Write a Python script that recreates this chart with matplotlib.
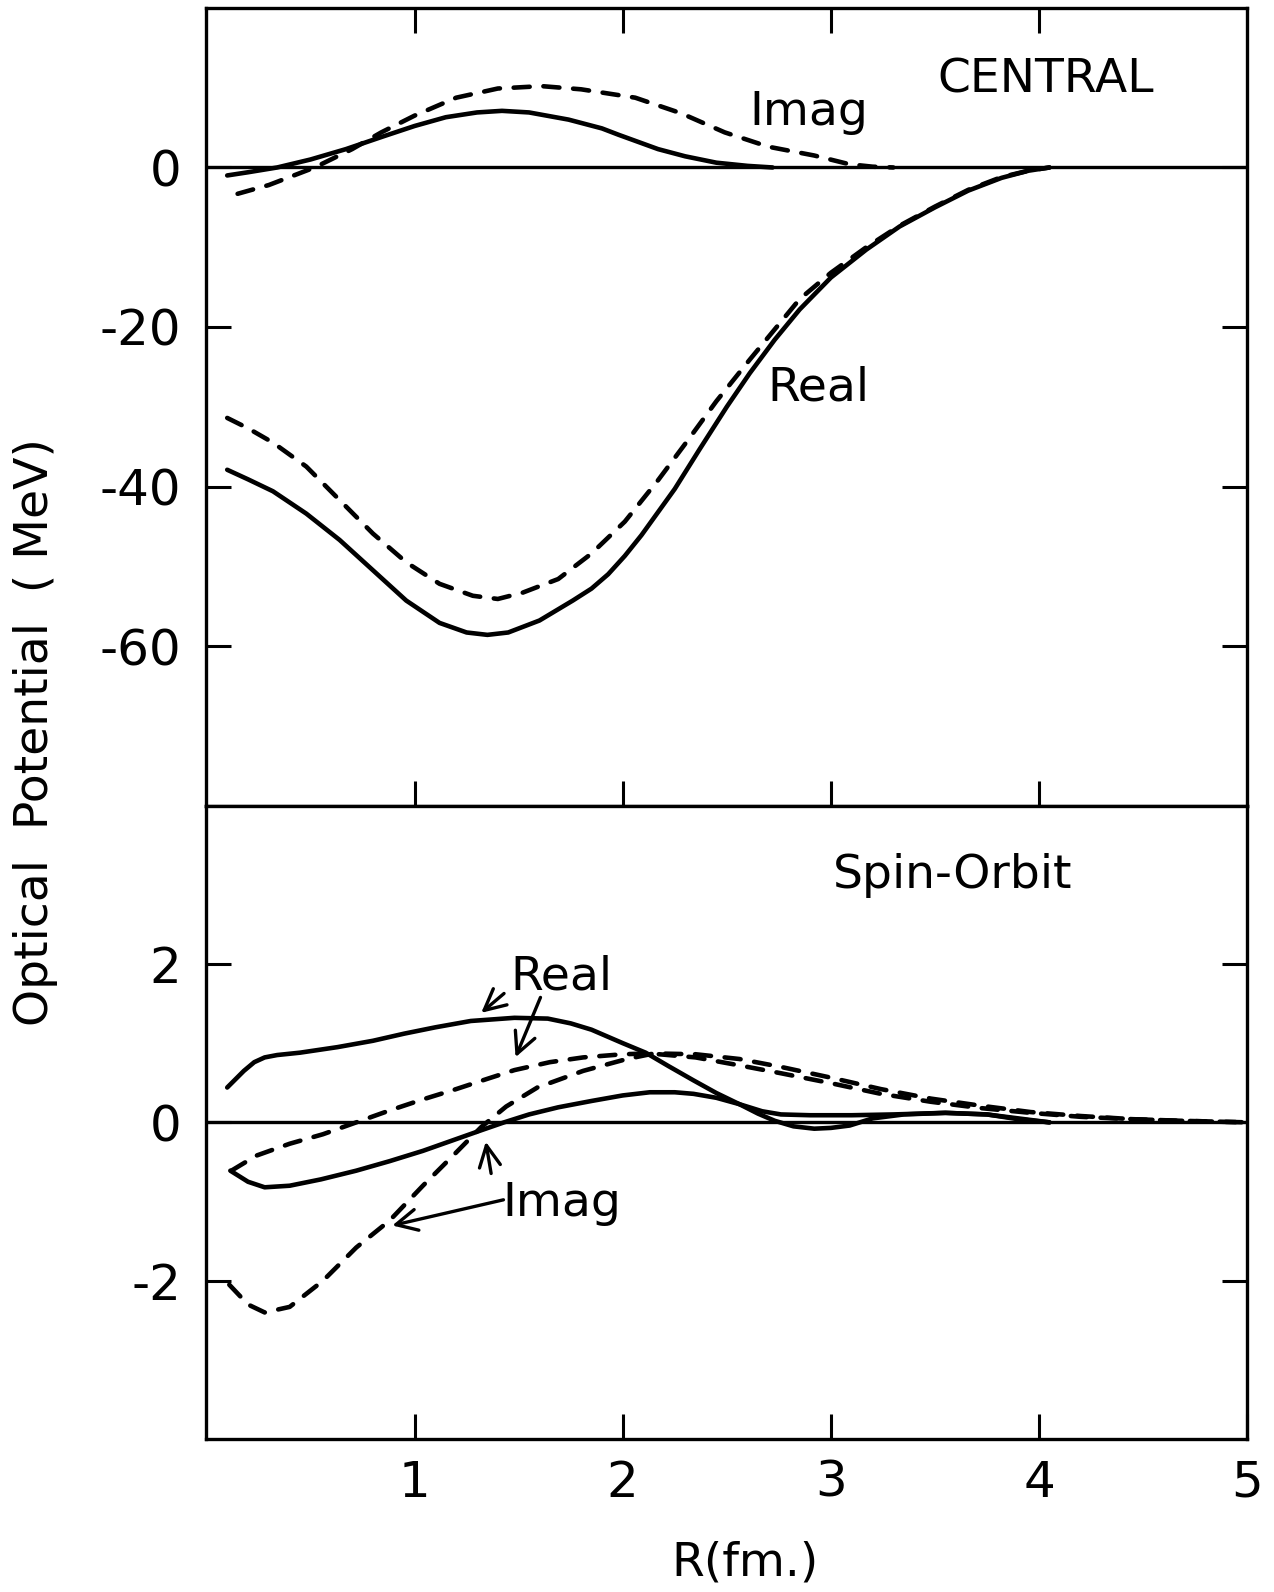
"""
Optical potential: central and spin-orbit parts, real and imaginary
"""
import matplotlib
matplotlib.use('Agg')
import matplotlib.pyplot as plt

# --- central part (MeV) ---
r_cen_real_a = [0.10, 0.20, 0.32, 0.48, 0.64, 0.80, 0.96, 1.12, 1.25, 1.35,
                1.45, 1.60, 1.76, 1.85, 1.93, 2.01, 2.09, 2.17, 2.25, 2.37,
                2.50, 2.61, 2.73, 2.85, 3.00, 3.17, 3.33, 3.50, 3.66, 3.82,
                3.95, 4.05]
v_cen_real_a = [-37.9, -39.1, -40.6, -43.4, -46.7, -50.5, -54.3, -57.1, -58.3,
                -58.6, -58.3, -56.8, -54.3, -52.8, -51.0, -48.7, -46.1, -43.2,
                -40.3, -35.3, -30.0, -25.8, -21.6, -17.8, -13.8, -10.3, -7.4,
                -5.0, -2.9, -1.3, -0.4, 0.0]
r_cen_real_b = [0.10, 0.20, 0.32, 0.48, 0.64, 0.80, 0.96, 1.12, 1.28, 1.40,
                1.52, 1.69, 1.85, 2.01, 2.17, 2.31, 2.45, 2.61, 2.73, 2.85,
                3.00, 3.17, 3.33, 3.50, 3.66, 3.82, 3.95, 4.05]
v_cen_real_b = [-31.4, -32.7, -34.5, -37.5, -41.7, -45.9, -49.5, -52.2, -53.7,
                -54.1, -53.3, -51.6, -48.4, -44.4, -39.2, -34.3, -29.3, -24.1,
                -20.3, -16.5, -13.2, -10.0, -7.3, -4.9, -2.8, -1.2, -0.4, 0.0]
r_cen_imag_a = [0.10, 0.20, 0.34, 0.50, 0.67, 0.85, 1.00, 1.15, 1.30, 1.42,
                1.55, 1.74, 1.90, 1.98, 2.17, 2.30, 2.45, 2.60, 2.72]
v_cen_imag_a = [-1.0, -0.6, 0.0, 1.0, 2.3, 3.9, 5.2, 6.3, 6.9, 7.1,
                6.9, 6.0, 4.9, 4.1, 2.3, 1.4, 0.6, 0.2, 0.0]
r_cen_imag_b = [0.15, 0.30, 0.52, 0.70, 0.84, 1.00, 1.20, 1.40, 1.61, 1.80,
                2.06, 2.28, 2.49, 2.70, 2.82, 2.92, 3.09, 3.20, 3.30]
v_cen_imag_b = [-3.3, -2.2, 0.0, 2.3, 4.4, 6.5, 8.75, 9.9, 10.2, 9.8,
                8.75, 6.8, 4.4, 2.6, 2.0, 1.5, 0.4, 0.1, 0.0]

# --- spin-orbit part (MeV) ---
r_so_real_a = [0.10, 0.18, 0.23, 0.28, 0.34, 0.45, 0.63, 0.80, 0.95, 1.10,
               1.27, 1.48, 1.64, 1.75, 1.85, 2.00, 2.11, 2.22, 2.34, 2.45,
               2.56, 2.65, 2.73, 2.82, 2.92, 3.00, 3.09, 3.20, 3.35, 3.55,
               3.75, 3.90, 4.05]
v_so_real_a = [0.44, 0.65, 0.76, 0.82, 0.85, 0.88, 0.95, 1.03, 1.12, 1.20,
               1.28, 1.32, 1.31, 1.25, 1.17, 1.00, 0.88, 0.71, 0.53, 0.37,
               0.23, 0.11, 0.02, -0.05, -0.08, -0.07, -0.04, 0.05, 0.10, 0.12,
               0.10, 0.04, 0.0]
r_so_imag_a = [0.115, 0.20, 0.28, 0.40, 0.55, 0.72, 0.88, 1.04, 1.18, 1.32,
               1.43, 1.55, 1.69, 1.85, 2.00, 2.13, 2.25, 2.34, 2.45, 2.56,
               2.67, 2.76, 2.90, 3.10, 3.30, 3.55, 3.75, 3.90, 4.05]
v_so_imag_a = [-0.61, -0.75, -0.82, -0.80, -0.72, -0.61, -0.49, -0.36, -0.23,
               -0.10, 0.0, 0.10, 0.19, 0.27, 0.34, 0.38, 0.38, 0.36, 0.31,
               0.23, 0.14, 0.10, 0.09, 0.09, 0.10, 0.12, 0.10, 0.05, 0.0]
r_so_real_b = [0.12, 0.24, 0.40, 0.56, 0.72, 0.88, 1.04, 1.20, 1.35, 1.48,
               1.65, 1.81, 2.00, 2.13, 2.35, 2.56, 2.76, 2.99, 3.24, 3.48,
               3.72, 3.96, 4.20, 4.45, 4.68, 5.00]
v_so_real_b = [-0.61, -0.42, -0.27, -0.15, 0.0, 0.15, 0.29, 0.42, 0.55, 0.66,
               0.76, 0.82, 0.86, 0.87, 0.82, 0.72, 0.62, 0.50, 0.36, 0.26,
               0.18, 0.12, 0.07, 0.04, 0.02, 0.0]
r_so_imag_b = [0.11, 0.20, 0.28, 0.40, 0.56, 0.72, 0.88, 1.04, 1.20, 1.32,
               1.44, 1.59, 1.81, 2.02, 2.15, 2.35, 2.56, 2.76, 2.99, 3.24,
               3.48, 3.72, 3.96, 4.20, 4.45, 4.68, 5.00]
v_so_imag_b = [-2.05, -2.30, -2.40, -2.33, -2.00, -1.58, -1.24, -0.80, -0.38,
               -0.06, 0.20, 0.44, 0.65, 0.80, 0.87, 0.86, 0.80, 0.70, 0.57,
               0.42, 0.30, 0.21, 0.13, 0.08, 0.04, 0.02, 0.0]

x_ticks = [1, 2, 3, 4, 5]
cen_ticks = [0, -20, -40, -60]
so_ticks = [2, 0, -2]

LW = 3.3
DASH = dict(linestyle=(0, (3.5, 3.0)), dash_capstyle='round')
SOLID = dict(linestyle='-', solid_capstyle='round', solid_joinstyle='round')
FS_TXT = 34
FS_TICK = 36

plt.rcParams['font.family'] = ['DejaVu Sans']

fig = plt.figure(figsize=(12.74, 15.92), dpi=100)
ax1 = fig.add_axes([0.162, 0.494, 0.817, 0.501])
ax2 = fig.add_axes([0.162, 0.096, 0.817, 0.398])

# Panneau central
ax1.plot(r_cen_real_a, v_cen_real_a, 'k', lw=LW, **SOLID)
ax1.plot(r_cen_real_b, v_cen_real_b, 'k', lw=LW, **DASH)
ax1.plot(r_cen_imag_a, v_cen_imag_a, 'k', lw=LW, **SOLID)
ax1.plot(r_cen_imag_b, v_cen_imag_b, 'k', lw=LW, **DASH)
ax1.axhline(0, color='k', lw=2.4)
ax1.set_xlim(0, 5)
ax1.set_ylim(-80, 20)
ax1.set_yticks(cen_ticks)
ax1.set_yticklabels([str(t) for t in cen_ticks])
ax1.set_xticks(x_ticks[:-1])
ax1.tick_params(direction='in', top=True, bottom=True, left=True, right=True,
                labelbottom=False, length=18, width=2.2, labelsize=FS_TICK,
                pad=18)
ax1.text(3.51, 9.4, 'CENTRAL', fontsize=FS_TXT)
ax1.text(2.61, 5.3, 'Imag', fontsize=FS_TXT)
ax1.text(2.695, -29.2, 'Real', fontsize=FS_TXT)

# Panneau spin-orbite
ax2.plot(r_so_real_a, v_so_real_a, 'k', lw=LW, **SOLID)
ax2.plot(r_so_imag_a, v_so_imag_a, 'k', lw=LW, **SOLID)
ax2.plot(r_so_real_b, v_so_real_b, 'k', lw=LW, **DASH)
ax2.plot(r_so_imag_b, v_so_imag_b, 'k', lw=LW, **DASH)
ax2.axhline(0, color='k', lw=2.4)
ax2.set_xlim(0, 5)
ax2.set_ylim(-4, 4)
ax2.set_yticks(so_ticks)
ax2.set_yticklabels([str(t) for t in so_ticks])
ax2.set_xticks(x_ticks)
ax2.set_xticklabels([str(t) for t in x_ticks])
ax2.tick_params(direction='in', top=False, bottom=True, left=True, right=True,
                length=18, width=2.2, labelsize=FS_TICK, pad=18)
ax2.tick_params(axis='x', pad=14)
ax2.text(3.01, 2.96, 'Spin-Orbit', fontsize=FS_TXT)
ax2.text(1.46, 1.675, 'Real', fontsize=FS_TXT)
ax2.text(1.42, -1.18, 'Imag', fontsize=FS_TXT)

arrow = dict(arrowstyle='->', color='k', lw=2.4, mutation_scale=38)
ax2.annotate('', xy=(1.31, 1.36), xytext=(1.44, 1.65), arrowprops=arrow)
ax2.annotate('', xy=(1.48, 0.79), xytext=(1.61, 1.61), arrowprops=arrow)
ax2.annotate('', xy=(1.34, -0.21), xytext=(1.37, -0.68), arrowprops=arrow)
ax2.annotate('', xy=(0.88, -1.31), xytext=(1.44, -0.97), arrowprops=arrow)

for ax in (ax1, ax2):
    for sp in ax.spines.values():
        sp.set_linewidth(2.4)

fig.text(0.028, 0.54, 'Optical  Potential  ( MeV)', rotation=90,
         ha='center', va='center', fontsize=FS_TXT)
fig.text(0.585, 0.018, 'R(fm.)', ha='center', va='center', fontsize=FS_TXT)

fig.savefig('out.png', dpi=100)
